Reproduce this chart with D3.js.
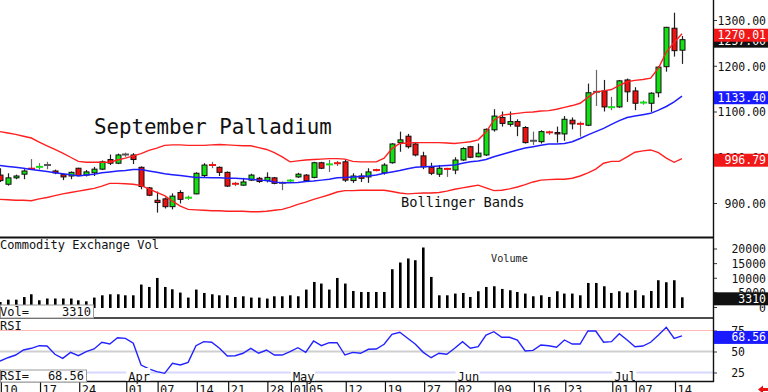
<!DOCTYPE html>
<html><head><meta charset="utf-8">
<script src="https://cdn.jsdelivr.net/npm/d3@7"></script>
<style>
html,body{margin:0;padding:0;background:#fff;overflow:hidden}
svg{display:block}
text{font-family:"DejaVu Sans Mono",monospace}
</style></head><body>
<svg id="chart" width="768" height="392"></svg>
<script>
// ---------- DATA ----------
const openP = [961,941,955,963,976,978,983,970,962,959,
  976,961,966,974,995,987,1006,1005,978,933,
  906,909,892,923,911,920,960,984,978,967,
  943,939,950,954,949,955,944,948,957,961,
  956,988,984,988,990,949,959,957,973,966,
  988,1032,1046,1029,1003,978,963,975,972,994,
  1023,1001,1005,1060,1087,1072,1078,1065,1036,1034,
  1055,1054,1051,1081,1074,1070,1143,1145,1109,1110,
  1169,1145,1119,1118,1141,1198,1282,1234];
const highP = [976,965,962,974,996,987,990,973,964,969,
  977,972,979,993,1006,1008,1010,1009,980,935,
  925,912,921,928,916,967,987,990,980,969,
  946,955,964,957,967,957,947,952,966,963,
  990,990,994,992,995,965,965,976,975,987,
  1031,1056,1051,1031,1012,988,983,977,1000,1022,
  1025,1030,1063,1105,1100,1100,1083,1068,1056,1059,
  1058,1067,1090,1087,1078,1161,1191,1169,1132,1169,
  1172,1153,1124,1142,1199,1285,1316,1265];
const lowP = [946,938,952,952,972,973,974,963,950,952,
  959,958,959,972,983,985,1001,985,930,915,
  879,888,886,899,907,919,957,976,959,935,
  937,938,948,944,945,941,928,945,955,947,
  954,974,968,981,946,944,946,944,969,962,
  986,1012,1019,1002,974,961,957,957,963,992,
  998,1000,1003,1056,1067,1067,1046,1030,1027,1030,
  1049,1032,1036,1061,1045,1068,1112,1100,1103,1108,
  1121,1103,1115,1099,1131,1187,1220,1204];
const closeP = [949,955,959,970,974,980,983,966,957,967,
  960,968,974,990,987,1005,1006,995,936,917,
  901,892,915,908,912,965,983,982,967,937,
  941,946,961,947,956,943,944,950,963,949,
  988,976,985,986,950,959,954,968,971,983,
  1029,1038,1023,1005,979,965,976,974,994,1019,
  1000,1009,1061,1090,1074,1078,1068,1032,1036,1056,
  1054,1051,1083,1073,1072,1141,1143,1110,1110,1167,
  1143,1118,1120,1140,1197,1284,1233,1257];
const volume = [1700,2500,2500,3400,4350,2300,2900,2900,2900,2900,
  2300,1950,3220,4000,4350,4350,4000,4000,7670,6850,
  9930,6850,6060,4930,3220,5960,4800,4350,4000,4000,
  3430,3660,3220,3220,2880,3660,3660,4000,3660,5960,
  8560,8010,5960,9930,8010,5480,5140,5140,5140,5140,
  12910,15210,16580,15990,20340,10280,4000,4000,4590,4800,
  3430,5380,6850,7090,6170,5720,5140,4590,3660,4000,
  3430,5380,4590,4590,4000,8220,8220,7090,4800,5380,
  4930,5720,4000,5480,9150,8460,9150,3310];
const upperBand = [1056,1053,1050,1046,1042,1033,1025,1017,1009,1000,
  991,989,989,989,989,994,998,1003,1008,1015,
  1020,1026,1027,1027,1026,1026,1026,1027,1028,1027,
  1026,1025,1025,1021,1017,1010,1001,990,992,994,
  995,996,997,997,996,991,990,990,990,998,
  1019,1030,1031,1032,1032,1032,1032,1031,1030,1032,
  1034,1038,1055,1081,1092,1094,1096,1098,1099,1101,
  1102,1105,1109,1113,1118,1131,1143,1145,1148,1157,
  1165,1168,1170,1173,1195,1230,1251,1270.01];
const midBand = [982,980,978,976,973,971,969,966,964,962,
  959,961,963,966,968,970,971,973,973,970,
  967,964,962,960,958,956,956,955,955,954,
  954,953,952,950,949,946,944,944,945,947,
  948,950,952,955,956,957,958,959,961,965,
  968,971,975,978,979,980,981,982,983,987,
  990,992,995,1001,1006,1011,1016,1020,1023,1026,
  1029,1029,1030,1034,1041,1049,1056,1063,1072,1080,
  1087,1090,1093,1096,1103,1111,1121,1133.4];
const lowerBand = [908,907,906,906,905,909,912,916,920,923,
  926,929,932,937,943,943,942,941,938,931,
  923,916,904,893,886,885,884,883,883,882,
  882,882,881,881,882,884,886,891,897,902,
  908,913,918,924,927,927,928,928,928,928,
  925,922,920,921,922,922,923,926,930,933,
  936,939,933,927,928,931,935,940,946,950,
  951,952,952,954,959,966,974,987,991,991,
  1001,1011,1014,1016,1010,998,989,996.79];
const rsi = [38.7,42.6,45.8,51.8,53.8,56.9,56.5,46.7,41.9,49,
  45,49.8,53,61,58.9,66.4,65.7,59.8,33.9,29.2,
  26,24,36,33.9,37.1,56.9,61.7,61,53.8,44.6,
  45,47.9,53.8,47.9,51.8,45.8,45.8,49.8,54.5,49,
  62.5,56.9,60.5,60.5,45.8,49,47.9,52.6,53,58.6,
  70.5,72.9,65.7,58.6,49,42.6,47.9,46.7,53.8,61.7,
  53.8,55.7,69.6,73.6,66.9,66.9,63.7,50.6,51.4,57.7,
  56.9,55,63.7,58.9,58.9,74.4,74.4,61,61.7,71.2,
  63.7,55.7,56.5,61,69.6,78.8,65.7,68.56];
const dayTickIdx = [1,6,11,17,21,26,30,35,38,40,45,50,55,59,64,69,73,79,82,87];
const dayTickLabels = ["10","17","24","01","07","14","21","28","01","05","12","19","27","02","09","16","23","01","07","14"];
const monthIdx = [17,38,59,79];
const monthLabels = ["Apr","May","Jun","Jul"];
const priceTicks = [900,1000,1100,1200,1300];
const volTicks = [0,5000,10000,15000,20000];
const rsiTicks = [25,50,75];
const lastClose = "1257.00", lastUpper = "1270.01", lastMid = "1133.40", lastLower = "996.79";
const lastVol = "3310", lastRsi = "68.56";

// ---------- SCALES ----------
const svg = d3.select("#chart");
const N = closeP.length;
const idx = d3.range(N);
const AX = 714;
const x = d3.scaleLinear().domain([0, N - 1]).range([0, 682]);
const yP = d3.scaleLinear().domain([900, 1300]).range([203, 20]);
const yV = d3.scaleLinear().domain([0, 20000]).range([307, 248.5]);
const yR = d3.scaleLinear().domain([25, 75]).range([372.5, 330.5]);

const defs = svg.append("defs");
defs.append("clipPath").attr("id","cMain").append("rect").attr("x",0).attr("y",0).attr("width",AX).attr("height",237);
defs.append("clipPath").attr("id","cVol").append("rect").attr("x",0).attr("y",239).attr("width",AX).attr("height",79);
defs.append("clipPath").attr("id","cRsi").append("rect").attr("x",0).attr("y",319).attr("width",AX).attr("height",62);

svg.append("rect").attr("width",768).attr("height",392).attr("fill","#fff");

// ---------- RSI GRID ----------
const gR = svg.append("g").attr("clip-path","url(#cRsi)");
gR.append("line").attr("x1",0).attr("x2",AX).attr("y1",yR(75)).attr("y2",yR(75)).attr("stroke","#ffb8b8").attr("stroke-width",1);
gR.append("line").attr("x1",0).attr("x2",AX).attr("y1",yR(50)).attr("y2",yR(50)).attr("stroke","#cfcfcf").attr("stroke-width",2);
gR.append("line").attr("x1",0).attr("x2",AX).attr("y1",yR(25)).attr("y2",yR(25)).attr("stroke","#d8d8ff").attr("stroke-width",2);

// ---------- CANDLES ----------
const gC = svg.append("g").attr("clip-path","url(#cMain)");
const cand = gC.selectAll("g.c").data(idx).join("g").attr("class","c");
cand.append("line")
  .attr("x1", i => Math.round(x(i)) + 0.5).attr("x2", i => Math.round(x(i)) + 0.5)
  .attr("y1", i => yP(highP[i])).attr("y2", i => yP(lowP[i]))
  .attr("stroke", i => Math.abs(openP[i]-closeP[i]) <= 2 ? "#666" : "#222")
  .attr("stroke-width", 1.2);
const colOf = i => closeP[i] > openP[i] ? "#14e014" : closeP[i] < openP[i] ? "#ee1111" : "#555";
cand.filter(i => Math.abs(openP[i]-closeP[i]) > 2).append("rect")
  .attr("x", i => Math.round(x(i)) - 2)
  .attr("y", i => yP(Math.max(openP[i], closeP[i])))
  .attr("width", 5)
  .attr("height", i => yP(Math.min(openP[i], closeP[i])) - yP(Math.max(openP[i], closeP[i])))
  .attr("fill", colOf).attr("stroke", "#111").attr("stroke-width", 1);
cand.filter(i => Math.abs(openP[i]-closeP[i]) <= 2).append("line")
  .attr("x1", i => Math.round(x(i)) - 3).attr("x2", i => Math.round(x(i)) + 4)
  .attr("y1", i => yP((openP[i]+closeP[i])/2)).attr("y2", i => yP((openP[i]+closeP[i])/2))
  .attr("stroke", colOf).attr("stroke-width", 2);

// ---------- BANDS ----------
const lineOf = (arr, ys) => d3.line().x(i => x(i)).y(i => ys(arr[i]))(idx);
gC.append("path").attr("d", lineOf(upperBand, yP)).attr("fill","none").attr("stroke","#ff2020").attr("stroke-width",1.4);
gC.append("path").attr("d", lineOf(lowerBand, yP)).attr("fill","none").attr("stroke","#ff2020").attr("stroke-width",1.4);
gC.append("path").attr("d", lineOf(midBand, yP)).attr("fill","none").attr("stroke","#1e1eff").attr("stroke-width",1.5);

// ---------- VOLUME ----------
const gV = svg.append("g").attr("clip-path","url(#cVol)");
gV.selectAll("rect").data(idx).join("rect")
  .attr("x", i => Math.round(x(i)) - 1).attr("width", 2.6)
  .attr("y", i => yV(volume[i])).attr("height", i => yV(0) - yV(volume[i]) + 1)
  .attr("fill", "#000");

// ---------- RSI LINE ----------
gR.append("path").attr("d", lineOf(rsi, yR)).attr("fill","none").attr("stroke","#2222ff").attr("stroke-width",1.4);

// ---------- PANEL BORDERS ----------
const border = (x1,y1,x2,y2,w) => svg.append("line").attr("x1",x1).attr("y1",y1).attr("x2",x2).attr("y2",y2).attr("stroke","#111").attr("stroke-width",w);
border(0,237.5,AX,237.5,2);
border(0,318,AX,318,1.6);
border(0,381.5,AX,381.5,1.6);
border(AX-0.5,0,AX-0.5,382,1.4);

// ---------- RIGHT AXES ----------
const fs = "11.5px";
const pAx = svg.append("g").attr("transform",`translate(${AX},0)`)
  .call(d3.axisRight(yP).tickValues(priceTicks).tickSize(3).tickFormat(d3.format(".2f")));
const vAx = svg.append("g").attr("transform",`translate(${AX},0)`)
  .call(d3.axisRight(yV).tickValues(volTicks).tickSize(3).tickFormat(d3.format("d")));
const rAx = svg.append("g").attr("transform",`translate(${AX},0)`)
  .call(d3.axisRight(yR).tickValues(rsiTicks).tickSize(3).tickFormat(d3.format("d")));
[pAx, vAx, rAx].forEach(g => {
  g.select(".domain").remove();
  g.selectAll(".tick line").attr("stroke","#333");
  g.selectAll(".tick text").attr("text-anchor","end").attr("font-family","DejaVu Sans Mono").attr("font-size",fs).attr("fill","#111").attr("dy","0.38em");
});
pAx.selectAll(".tick text").attr("x", 52);
vAx.selectAll(".tick text").attr("x", 52);
rAx.selectAll(".tick text").attr("x", 31);

// value boxes
const valBox = (y, txt, bg) => {
  svg.append("rect").attr("x",AX).attr("y",y-5).attr("width",768-AX).attr("height",13).attr("fill",bg);
  svg.append("text").attr("x",766).attr("y",y+5.5).attr("text-anchor","end").attr("font-size",fs).attr("fill","#fff").text(txt);
};
valBox(yP(+lastClose), lastClose, "#111");
valBox(yP(upperBand[N-1]), lastUpper, "#f01818");
valBox(yP(midBand[N-1]), lastMid, "#1a1aff");
valBox(yP(lowerBand[N-1]), lastLower, "#f01818");
valBox(yV(volume[N-1]), lastVol, "#111");
valBox(yR(rsi[N-1]), lastRsi, "#1a1aff");

// ---------- BOTTOM AXIS ----------
const xt = d3.scaleLinear().domain([0, N - 1]).range([-7, 675]);
const bAx = svg.append("g").attr("transform","translate(0,382)")
  .call(d3.axisBottom(xt).tickValues(dayTickIdx).tickSize(10)
    .tickFormat((d,k) => dayTickLabels[k]));
bAx.select(".domain").remove();
bAx.selectAll(".tick line").attr("stroke","#111").attr("stroke-width",1.2);
bAx.selectAll(".tick text").attr("text-anchor","start").attr("x",2).attr("y",0).attr("dy","11.5px")
  .attr("font-family","DejaVu Sans Mono").attr("font-size","12px").attr("fill","#111");

monthIdx.forEach((mi, k) => {
  const tx = xt(mi);
  svg.append("rect").attr("x",tx).attr("y",368).attr("width",24).attr("height",12.5).attr("fill","#fff");
  svg.append("text").attr("x",tx+2).attr("y",380.5).attr("font-size","12px").attr("fill","#111").text(monthLabels[k]);
});

// ---------- TEXT / LEGENDS ----------
svg.append("text").attr("x",94).attr("y",133.5).attr("font-size","20.8px").attr("fill","#111").text("September Palladium");
svg.append("text").attr("x",401).attr("y",207.3).attr("font-size","13.7px").attr("fill","#111").text("Bollinger Bands");
svg.append("text").attr("x",0).attr("y",248.5).attr("font-size","12px").attr("fill","#111").text("Commodity Exchange Vol");
svg.append("text").attr("x",491).attr("y",261.5).attr("font-size","10.2px").attr("fill","#222").text("Volume");

svg.append("rect").attr("x",0.5).attr("y",305).attr("width",93).attr("height",13).attr("fill","#fff").attr("stroke","#999");
svg.append("text").attr("x",0).attr("y",315.5).attr("font-size","12px").attr("fill","#111").text("Vol=");
svg.append("text").attr("x",91).attr("y",315.5).attr("text-anchor","end").attr("font-size","12px").attr("fill","#111").text(lastVol);

svg.append("rect").attr("x",0).attr("y",319).attr("width",22).attr("height",11).attr("fill","#fff");
svg.append("text").attr("x",0).attr("y",329.5).attr("font-size","12px").attr("fill","#111").text("RSI");

svg.append("rect").attr("x",0.5).attr("y",370).attr("width",86).attr("height",12).attr("fill","#fff").attr("stroke","#999");
svg.append("text").attr("x",0).attr("y",380).attr("font-size","12px").attr("fill","#111").text("RSI=");
svg.append("text").attr("x",84).attr("y",380).attr("text-anchor","end").attr("font-size","12px").attr("fill","#111").text(lastRsi);

// small red arrow bottom right
svg.append("path").attr("d","M758,389.5 L763,385.5 L763,388 L768,388 L768,391 L763,391 L763,393.5 Z").attr("fill","#e81010");
</script>
</body></html>
